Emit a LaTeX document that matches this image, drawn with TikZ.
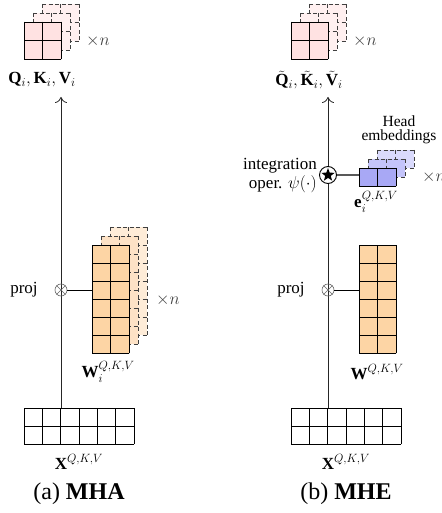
\documentclass[tikz,border=0pt]{standalone}
\usepackage{amsmath,amssymb}
\usepackage{fontspec}
\setmainfont{Liberation Serif}
\usetikzlibrary{arrows.meta,shapes.geometric}
\definecolor{pinkF}{RGB}{255,226,226}
\definecolor{pinkB}{RGB}{255,240,240}
\definecolor{orF}{RGB}{253,213,165}
\definecolor{orB1}{RGB}{253,226,198}
\definecolor{orB2}{RGB}{254,236,216}
\definecolor{blF}{RGB}{168,168,245}
\definecolor{blB1}{RGB}{196,196,250}
\definecolor{blB2}{RGB}{218,218,252}
\newcommand{\drawmat}[8]{%
  \node[anchor=north west, inner sep=0pt, outer sep=0pt, minimum width={#4*#6*1pt}, minimum height={#5*#7*1pt}, #8, draw=none] (#1) at (#2,#3) {};
  \foreach \k in {0,...,#4} \draw[#8, fill=none] ({#2+\k*#6},#3) -- ({#2+\k*#6},{#3+#5*#7});
  \foreach \k in {0,...,#5} \draw[#8, fill=none] (#2,{#3+\k*#7}) -- ({#2+#4*#6},{#3+\k*#7});
}
\tikzset{
  front/.style={draw=black, line width=0.8pt, line cap=rect},
  backm/.style={draw=black!75, line width=0.8pt, dash pattern=on 4pt off 2.5pt},
  lbl/.style={font=\fontsize{17}{19}\selectfont, inner sep=1pt},
  captext/.style={font=\fontsize{24}{27}\selectfont, inner sep=1pt},
  mainline/.style={draw=black!85, line width=0.8pt, -{To[length=6pt,width=12pt]}},
  projc/.style={circle, draw=black!60, minimum size=12pt, inner sep=0pt, line width=0.6pt},
  conn/.style={draw=black, line width=0.8pt},
}
\begin{document}
\begin{tikzpicture}[x=1pt,y=-1pt]
\useasboundingbox (0,0) rectangle (441,513);
% ===================== (a) MHA =====================
\coordinate (c1) at (61,290);
\coordinate (top1) at (61,97);
% top pink matrices
\drawmat{qb2a}{42}{4}{2}{2}{18.5}{18.5}{backm, fill=pinkB}
\drawmat{qb1a}{33}{13}{2}{2}{18.5}{18.5}{backm, fill=pinkB}
\drawmat{qa}{24}{22}{2}{2}{18.5}{18.5}{front, fill=pinkF}
\node[lbl, text=black!75] (na1) at (98,41) {$\times n$};
\node[lbl] (qlab1) at (42,80) {$\mathbf{Q}_i, \mathbf{K}_i, \mathbf{V}_i$};
% W matrices
\drawmat{wb2a}{110}{227}{2}{6}{18.5}{18}{backm, fill=orB2}
\drawmat{wb1a}{101}{236}{2}{6}{18.5}{18}{backm, fill=orB1}
\drawmat{wa}{92}{245}{2}{6}{18.5}{18}{front, fill=orF}
\node[lbl, text=black!75] (na2) at (168,300) {$\times n$};
\node[lbl] (wlab1) at (108,372) {$\mathbf{W}_i^{Q,K,V}$};
% X matrix
\drawmat{xa}{24}{408}{6}{2}{18.33}{18}{front, fill=white}
\node[lbl] (xlab1) at (79,462) {$\mathbf{X}^{Q,K,V}$};
% main line
\draw[mainline] (xa.north -| c1) -- (top1);
\node[projc] (p1) at (c1) {};
\draw[black!60, line width=0.6pt] (p1.north west) -- (p1.south east) (p1.north east) -- (p1.south west);
\draw[conn] (p1.east) -- (p1.east -| wa.west);
\node[lbl] (proj1) at (24,290) {proj};
\node[captext] (cap1) at (79,494) {(a) \textbf{MHA}};
% ===================== (b) MHE =====================
\coordinate (c2) at (328,290);
\coordinate (s2c) at (328,175);
\coordinate (top2) at (328,97);
\drawmat{qb2b}{309}{4}{2}{2}{18.5}{18.5}{backm, fill=pinkB}
\drawmat{qb1b}{300}{13}{2}{2}{18.5}{18.5}{backm, fill=pinkB}
\drawmat{qbm}{291}{22}{2}{2}{18.5}{18.5}{front, fill=pinkF}
\node[lbl, text=black!75] (nb1) at (365,41) {$\times n$};
\node[lbl] (qlab2) at (309,80) {$\tilde{\mathbf{Q}}_i, \tilde{\mathbf{K}}_i, \tilde{\mathbf{V}}_i$};
% head embeddings
\drawmat{eb2}{377}{150}{2}{1}{18.5}{18}{backm, fill=blB2}
\drawmat{eb1}{368}{159}{2}{1}{18.5}{18}{backm, fill=blB1}
\drawmat{eb}{359}{168}{2}{1}{18.5}{18}{front, fill=blF}
\node[lbl, text=black!75] (nb2) at (434,177) {$\times n$};
\node[lbl] (elab) at (376,202) {$\mathbf{e}_i^{Q,K,V}$};
\node[font=\fontsize{15.5}{13.5}\selectfont, align=center, inner sep=1pt] (head) at (399,130) {Head\\embeddings};
% W
\drawmat{wbm}{359}{245}{2}{6}{18.5}{18}{front, fill=orF}
\node[lbl] (wlab2) at (377,372) {$\mathbf{W}^{Q,K,V}$};
% X
\drawmat{xb}{291}{408}{6}{2}{18.33}{18}{front, fill=white}
\node[lbl] (xlab2) at (346,462) {$\mathbf{X}^{Q,K,V}$};
% main line
\draw[mainline] (xb.north -| c2) -- (top2);
\node[projc] (p2) at (c2) {};
\draw[black!60, line width=0.6pt] (p2.north west) -- (p2.south east) (p2.north east) -- (p2.south west);
\draw[conn] (p2.east) -- (p2.east -| wbm.west);
\node[lbl] (proj2) at (291,290) {proj};
\node[circle, draw=black, fill=white, line width=0.9pt, minimum size=17pt, inner sep=0pt] (s2) at (s2c) {};
\node[star, star points=5, star point ratio=2.4, fill=black, minimum size=14pt, inner sep=0pt] (st2) at (s2) {};
\draw[draw=black!65, line width=1.3pt] (s2.east) -- (s2.east -| eb.west);
\node[lbl, align=right, anchor=east] (integ) at (318,176) {integration\\oper. $\psi(\cdot)$};
\node[captext] (cap2) at (346,494) {(b) \textbf{MHE}};
\end{tikzpicture}
\end{document}
